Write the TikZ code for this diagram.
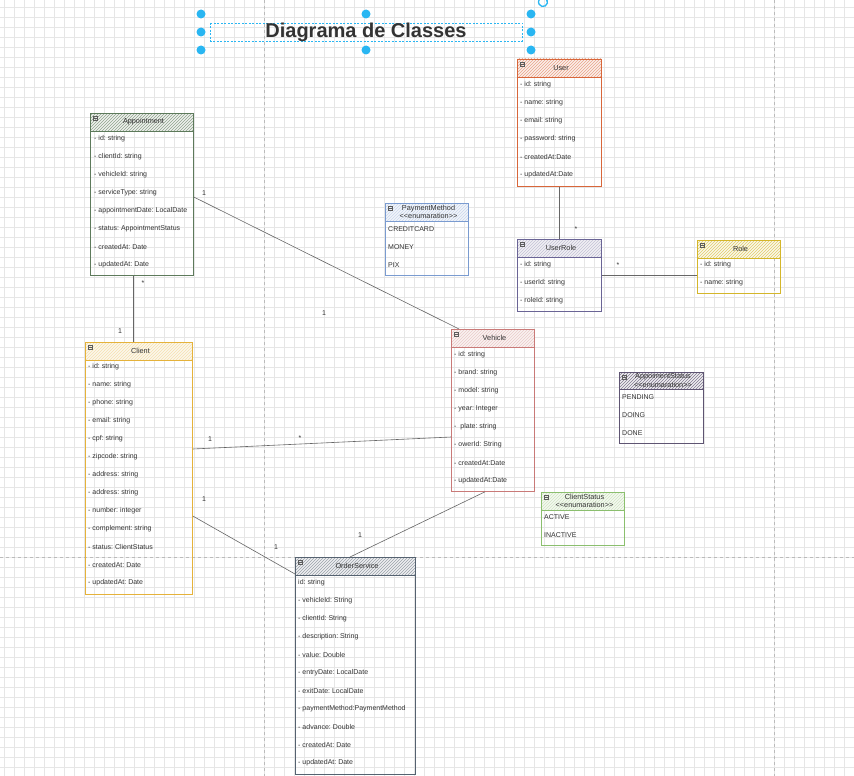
\documentclass[tikz,border=0pt]{standalone}
\usepackage{fontspec}
\setmainfont{Liberation Sans}
\usetikzlibrary{patterns,calc}
\frenchspacing
\definecolor{txt}{HTML}{333333}
\definecolor{connc}{HTML}{666666}
\definecolor{gridc}{HTML}{E6E6E6}
\definecolor{pagec}{HTML}{BBBBBB}
\definecolor{handlec}{HTML}{29B6F2}
\definecolor{appc}{HTML}{5D7A5B}
\definecolor{userc}{HTML}{D8663A}
\definecolor{payc}{HTML}{7A9BD0}
\definecolor{urc}{HTML}{6A6495}
\definecolor{rolec}{HTML}{D4B62A}
\definecolor{vehc}{HTML}{C97A78}
\definecolor{clic}{HTML}{E5B23A}
\definecolor{asc}{HTML}{5E5472}
\definecolor{csc}{HTML}{8BBF6E}
\definecolor{osc}{HTML}{556270}
\newcommand\enumtag{<{}<enumaration>{}>}
\tikzset{
 clsframe/.style={rectangle, inner sep=0pt, anchor=north west, line width=0.8pt},
 attr/.style={anchor=west, inner sep=0pt, font=\fontsize{7}{8}\selectfont, text=txt},
 hdr/.style={inner sep=0pt, font=\fontsize{7.3}{8.5}\selectfont, text=txt, align=center},
 conn/.style={draw=connc, line width=0.6pt},
 mult/.style={inner sep=0pt, font=\fontsize{7}{8}\selectfont, text=txt},
 handle/.style={fill=handlec, draw=none, circle, minimum size=9pt, inner sep=0pt},
 icon/.style={draw=txt!80, line width=0.4pt},
}
% name, x, y, w, h, color, title, header height, hatch colour
\newcommand\clsbox[9]{%
 \fill[#6!10] (#2,#3) rectangle ++(#4,#8);
 \fill[pattern=north east lines, pattern color=#9] (#2,#3) rectangle ++(#4,#8);
 \node[clsframe, draw=#6, minimum width=#4pt, minimum height=#5pt] (#1) at (#2,#3) {};
 \draw[#6, line width=0.8pt] (#2,#3+#8) -- ++(#4,0);
 \draw[icon] (#2+3,#3+3) rectangle ++(4.5,4.5);
 \draw[icon] (#2+4,#3+5.25) -- ++(2.5,0);
 \node[hdr] (#1-t) at (#2+#4/2+2,#3+#8/2) {#7};
}
% name, x, y0, step, list
\newcommand\clsrows[5]{%
 \foreach \t [count=\k] in {#5} {\node[attr] (#1-r\k) at (#2,{#3+#4*(\k-1)}) {\t};}
}
\begin{document}
\begin{tikzpicture}[x=1pt,y=-1pt]
\useasboundingbox (0,0) rectangle (854,776);
\fill[white] (0,0) rectangle (854,776);
% grid
\foreach \i in {4,14,...,854} \draw[gridc, line width=0.5pt] (\i,0) -- (\i,776);
\foreach \j in {7,17,...,776} \draw[gridc, line width=0.5pt] (0,\j) -- (854,\j);
% page breaks
\draw[pagec, dashed, line width=0.6pt] (264,0) -- (264,776);
\draw[pagec, dashed, line width=0.6pt] (774,0) -- (774,776);
\draw[pagec, dashed, line width=0.6pt] (0,557) -- (854,557);

% title with selection
\draw[handlec, dash pattern=on 2pt off 1.5pt, line width=0.6pt] (210,23) rectangle (522,41);
\node[inner sep=0pt, font=\bfseries\fontsize{20}{22}\selectfont, text=txt] (title) at (366,32) {Diagrama de Classes};
\node[handle] (h1) at (201,14) {};
\node[handle] (h2) at (366,14) {};
\node[handle] (h3) at (531,14) {};
\node[handle] (h4) at (201,32) {};
\node[handle] (h5) at (531,32) {};
\node[handle] (h6) at (201,50) {};
\node[handle] (h7) at (366,50) {};
\node[handle] (h8) at (531,50) {};
\draw[handlec, line width=1.3pt] (543,2) ++(-30:4.5) arc[start angle=-30, end angle=250, radius=4.5];
\fill[handlec] (543,2) ++(-30:4.5) ++(2,-1.5) -- ++(-4,0) -- ++(2,3.5) -- cycle;

% classes
\clsbox{appt}{90}{113}{103}{162}{appc}{Appointment}{18}{appc!70}
\clsrows{appt}{94}{139}{18}{- id: string, - clientId: string, - vehicleId: string, - serviceType: string, - appointmentDate: LocalDate, - status: AppointmentStatus, - createdAt: Date, - updatedAt: Date}

\clsbox{user}{517}{59}{84}{127}{userc}{User}{18}{userc!60}
\clsrows{user}{520}{85}{18}{- id: string, - name: string, - email: string, - password: string, - createdAt:Date, - updatedAt:Date}

\clsbox{pay}{385}{203}{83}{72}{payc}{PaymentMethod\\\enumtag}{18}{payc!40}
\clsrows{pay}{388}{229}{18}{CREDITCARD, MONEY, PIX}

\clsbox{ur}{517}{239}{84}{72}{urc}{UserRole}{18}{urc!40}
\clsrows{ur}{520}{265}{18}{- id: string, - userId: string, - roleId: string}

\clsbox{role}{697}{240}{83}{53}{rolec}{Role}{18}{rolec!70}
\clsrows{role}{700}{265}{18}{- id: string, - name: string}

\clsbox{veh}{451}{329}{83}{162}{vehc}{Vehicle}{18}{vehc!40}
\clsrows{veh}{454}{355}{18}{- id: string, - brand: string, - model: string, - year: Integer, -\ \ plate: string, - owerId: String, - createdAt:Date, - updatedAt:Date}

\clsbox{cli}{85}{342}{107}{252}{clic}{Client}{18}{clic!40}
\clsrows{cli}{88}{367}{18}{- id: string, - name: string, - phone: string, - email: string, - cpf: string, - zipcode: string, - address: string, - address: string, - number: integer, - complement: string, - status: ClientStatus, - createdAt: Date, - updatedAt: Date}

\clsbox{as}{619}{372}{84}{71}{asc}{AppoimentStatus\\\enumtag}{17}{asc!80}
\clsrows{as}{622}{397}{18}{PENDING, DOING, DONE}

\clsbox{cs}{541}{492}{83}{53}{csc}{ClientStatus\\\enumtag}{18}{csc!40}
\clsrows{cs}{544}{517}{18}{ACTIVE, INACTIVE}

\clsbox{os}{295}{557}{120}{217}{osc}{OrderService}{18}{osc!60}
\clsrows{os}{298}{583}{18}{id: string, - vehicleId: String, - clientId: String, - description: String, - value: Double, - entryDate: LocalDate, - exitDate: LocalDate, - paymentMethod:PaymentMethod, - advance: Double, - createdAt: Date, - updatedAt: Date}

% connectors
\draw[conn] ([xshift=43pt]appt.south west) -- ([xshift=48pt]cli.north west);
\draw[conn] ([yshift=-84pt]appt.north east) -- ([xshift=8pt]veh.north west);
\draw[conn] ([xshift=42pt]user.south west) -- ([xshift=42pt]ur.north west);
\draw[conn] ([yshift=-36pt]ur.north east) -- ([yshift=-35pt]role.north west);
\draw[conn] ([yshift=-107pt]cli.north east) -- ([yshift=-108pt]veh.north west);
\draw[conn] ([yshift=-174pt]cli.north east) -- ([yshift=-17pt]os.north west);
\draw[conn] ([xshift=34pt]veh.south west) -- ([xshift=55pt]os.north west);

% multiplicities
\node[mult] (m1) at (143,283) {*};
\node[mult] (m2) at (120,331) {1};
\node[mult] (m3) at (204,193) {1};
\node[mult] (m4) at (324,313) {1};
\node[mult] (m5) at (576,229) {*};
\node[mult] (m6) at (618,265) {*};
\node[mult] (m7) at (210,439) {1};
\node[mult] (m8) at (300,438) {*};
\node[mult] (m9) at (204,499) {1};
\node[mult] (m10) at (276,547) {1};
\node[mult] (m11) at (360,535) {1};
\end{tikzpicture}
\end{document}
